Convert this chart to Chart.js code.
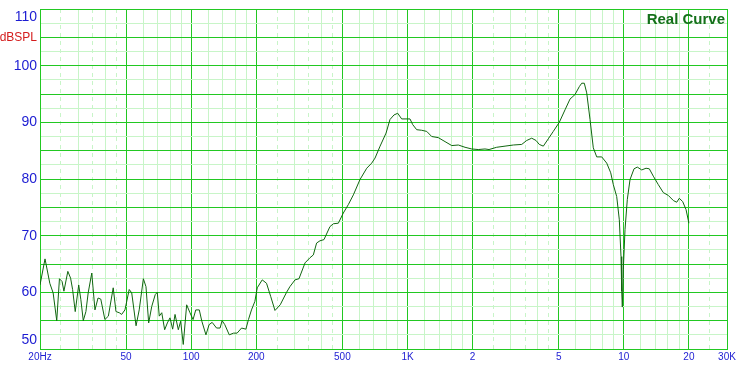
<!DOCTYPE html>
<html>
<head>
<meta charset="utf-8">
<title>Real Curve</title>
<script src="https://cdn.jsdelivr.net/npm/chart.js@4.4.0/dist/chart.umd.min.js"></script>
<style>
  html, body { margin: 0; padding: 0; background: #ffffff; }
  canvas { display: block; }
</style>
</head>
<body>
<canvas id="fr" width="748" height="365"></canvas>
<script>
const freqs = [
  20, 21.1, 22.2, 23.0, 23.9, 24.6, 25.3, 25.8, 26.9, 27.7,
  28.3, 29.1, 30.2, 30.9, 31.7, 32.6, 33.4, 34.7, 35.9, 37.1,
  38.2, 39.9, 41.4, 43.6, 44.9, 46.5, 47.7, 49.4, 51.7, 53.1,
  55.6, 57.5, 60.1, 61.8, 63.6, 65.7, 68.2, 69.7, 71.2, 73.1,
  75.4, 77.6, 79.8, 82.1, 84.2, 87.2, 89.4, 91.9, 95.3, 98.7,
  102, 105, 109, 112, 117, 121, 125, 131, 136, 139,
  143, 150, 157, 163, 171, 179, 184, 190, 197, 202,
  213, 223, 233, 244, 258, 276, 286, 302, 315, 336,
  354, 367, 380, 394, 411, 438, 454, 479, 505, 533,
  562, 603, 648, 683, 708, 747, 796, 830, 866, 901,
  940, 984, 1027, 1057, 1103, 1163, 1227, 1294, 1388, 1491,
  1602, 1718, 1845, 1981, 2124, 2282, 2382, 2584, 2824, 3086,
  3374, 3558, 3752, 3928, 4068, 4246, 4478, 4722, 5032, 5348,
  5640, 5948, 6228, 6390, 6568, 6738, 6980, 7228, 7496, 7906,
  8338, 8700, 8944, 9274, 9534, 9708, 9780, 9844, 9948, 10132,
  10382, 10686, 11150, 11548, 12102, 12670, 13120, 13692, 14442, 15232,
  16064, 16946, 17568, 18058, 18724, 19398, 20000
];
const spl = [
  61.3, 65.9, 61.6, 59.9, 55.0, 62.4, 61.9, 60.2, 63.7, 62.5,
  60.5, 56.6, 61.3, 58.7, 55.0, 56.6, 59.9, 63.4, 56.9, 59.0,
  58.8, 55.2, 55.8, 60.8, 56.6, 56.4, 56.1, 56.9, 60.5, 59.9,
  54.1, 56.9, 62.4, 61.0, 54.6, 57.5, 59.6, 60.0, 55.8, 56.4,
  53.4, 54.6, 55.5, 53.5, 56.1, 53.4, 54.9, 50.8, 57.8, 56.4,
  55.2, 56.9, 56.9, 54.9, 52.5, 54.3, 54.7, 53.7, 53.7, 55.0,
  54.3, 52.5, 52.8, 52.8, 53.7, 53.5, 55.2, 56.9, 58.4, 60.8,
  62.2, 61.6, 59.3, 56.8, 57.8, 60.0, 61.0, 62.2, 62.4, 65.2,
  66.1, 66.6, 68.7, 69.1, 69.3, 71.6, 72.1, 72.2, 74.0, 75.5,
  77.2, 79.9, 81.9, 82.8, 83.7, 85.8, 88.1, 90.5, 91.3, 91.6,
  90.6, 90.6, 90.6, 89.6, 88.7, 88.6, 88.4, 87.5, 87.3, 86.6,
  85.9, 86.0, 85.6, 85.3, 85.2, 85.3, 85.2, 85.6, 85.8, 86.0,
  86.1, 86.8, 87.2, 86.8, 86.1, 85.8, 87.1, 88.4, 90.0, 92.2,
  94.1, 94.9, 96.3, 96.9, 96.9, 95.2, 90.5, 85.5, 83.9, 83.9,
  82.8, 81.1, 79.0, 76.9, 72.8, 66.3, 60.2, 57.4, 64.0, 71.1,
  76.4, 79.9, 81.8, 82.1, 81.6, 81.9, 81.8, 80.5, 79.0, 77.6,
  77.1, 76.2, 75.9, 76.6, 76.0, 74.6, 72.2
];

// x grid: every line of the log paper, labelled ones separately
const xGridFreqs = [
  20, 25, 30, 35, 40, 45, 50, 60, 70, 80, 90,
  100, 120, 140, 160, 180, 200, 250, 300, 350, 400, 450,
  500, 600, 700, 800, 900, 1000, 1200, 1400, 1600, 1800,
  2000, 2500, 3000, 3500, 4000, 4500, 5000, 6000, 7000, 8000, 9000,
  10000, 12000, 14000, 16000, 18000, 20000, 25000, 30000
];
const xDashedFreqs = [25, 35, 45, 250, 350, 450, 2500, 3500, 4500, 25000];
const xLabelFreqs = [20, 50, 100, 200, 500, 1000, 2000, 5000, 10000, 20000, 30000];
const xLabels = ['20Hz', '50', '100', '200', '500', '1K', '2', '5', '10', '20', '30K'];

// y grid every 2.5 dB, labels every 10
const yGridValues = [
  50, 52.5, 55, 57.5, 60, 62.5, 65, 67.5, 70, 72.5, 75, 77.5,
  80, 82.5, 85, 87.5, 90, 92.5, 95, 97.5, 100, 102.5, 105, 107.5, 110
];
const yLabelValues = [50, 60, 70, 80, 90, 100, 110];
const yUnit = 'dBSPL';
const yUnitAt = 105;

const MAJOR = '#22c822';
const MINOR = '#c8f5c8';
const BLUE = '#1c1cd2';
const RED = '#d41c1c';
const FONT = 'Arial, "Liberation Sans", sans-serif';

// "Real Curve" tag in the top right corner of the plot
const curveTag = {
  id: 'curveTag',
  afterDraw(chart) {
    const { ctx, chartArea } = chart;
    ctx.save();
    ctx.font = 'bold 15px ' + FONT;
    ctx.fillStyle = '#14701a';
    ctx.textAlign = 'right';
    ctx.textBaseline = 'alphabetic';
    ctx.fillText(chart.data.datasets[0].label, chartArea.right - 2, chartArea.top + 15);
    ctx.restore();
  }
};

new Chart(document.getElementById('fr'), {
  type: 'line',
  data: {
    datasets: [{
      label: 'Real Curve',
      data: freqs.map((f, i) => ({ x: f, y: spl[i] })),
      borderColor: '#10660f',
      borderWidth: 1,
      pointRadius: 0,
      tension: 0,
      fill: false
    }]
  },
  options: {
    responsive: false,
    animation: false,
    devicePixelRatio: 1,
    layout: { padding: { top: 9, right: 21, left: 0, bottom: 0 } },
    plugins: {
      legend: { display: false },
      tooltip: { enabled: false }
    },
    scales: {
      x: {
        type: 'logarithmic',
        min: 20,
        max: 30000,
        afterBuildTicks: (axis) => { axis.ticks = xGridFreqs.map(v => ({ value: v })); },
        afterFit: (axis) => { axis.height = 16; axis.paddingLeft = 0; axis.paddingRight = 0; },
        ticks: {
          autoSkip: false,
          maxRotation: 0,
          minRotation: 0,
          padding: 2,
          color: BLUE,
          font: { family: FONT, size: 10 },
          callback: (v) => {
            const i = xLabelFreqs.indexOf(v);
            return i < 0 ? '' : xLabels[i];
          }
        },
        grid: {
          drawTicks: false,
          color: (c) => (c.tick && xLabelFreqs.includes(c.tick.value)) ? MAJOR : MINOR
        },
        border: {
          color: MAJOR,
          dash: (c) => (c.tick && xDashedFreqs.includes(c.tick.value)) ? [4, 4] : []
        }
      },
      y: {
        type: 'linear',
        min: 50,
        max: 110,
        afterBuildTicks: (axis) => { axis.ticks = yGridValues.map(v => ({ value: v })); },
        afterFit: (axis) => { axis.width = 40; axis.paddingTop = 0; axis.paddingBottom = 0; },
        ticks: {
          autoSkip: false,
          padding: 3,
          color: (c) => (c.tick && c.tick.value === yUnitAt) ? RED : BLUE,
          font: (c) => ({ family: FONT, size: (c.tick && c.tick.value === yUnitAt) ? 12 : 14 }),
          callback: (v) => {
            if (v === yUnitAt) return yUnit;
            if (!yLabelValues.includes(v)) return '';
            if (v === 110) return ['', String(v)];
            if (v === 50) return [String(v), ''];
            return String(v);
          }
        },
        grid: {
          drawTicks: false,
          color: (c) => (c.tick && c.tick.value % 5 === 0) ? MAJOR : MINOR
        },
        border: { color: MAJOR }
      }
    }
  },
  plugins: [curveTag]
});
</script>
</body>
</html>
